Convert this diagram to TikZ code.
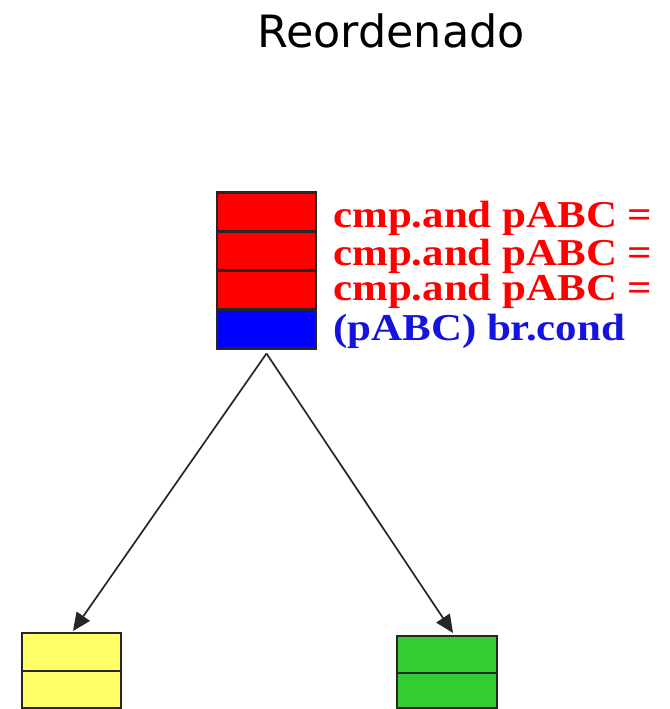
\documentclass[tikz,border=0pt]{standalone}
\usepackage{fontspec}
\setmainfont{Liberation Serif}
\newfontfamily\titlefont{DejaVu Sans}
\usetikzlibrary{arrows.meta}
\definecolor{cellyellow}{RGB}{255,255,102}
\definecolor{cellgreen}{RGB}{51,204,51}
\definecolor{lblblue}{RGB}{20,20,220}
\begin{document}
\begin{tikzpicture}[x=1pt,y=-1pt,
  cell/.style={draw=black!85, line width=2.5pt, inner sep=0pt, outer sep=0pt},
  lbl/.style={anchor=base west, inner sep=0pt, font=\fontsize{38}{38}\selectfont\bfseries},
  conn/.style={-{Triangle[length=18pt,width=16pt]}, line width=1.7pt, black!85}]
\useasboundingbox (0,0) rectangle (669,709);
\node[anchor=base, inner sep=0pt, font=\titlefont\fontsize{44.5}{44.5}\selectfont] (title) at (391,48) {Reordenado};
% stack
\node[cell, fill=red, minimum width=99pt, minimum height=39pt] (r1) at (266.5,212) {};
\node[cell, fill=red, minimum width=99pt, minimum height=39pt] (r2) at (266.5,251) {};
\node[cell, fill=red, minimum width=99pt, minimum height=39pt] (r3) at (266.5,290) {};
\node[cell, fill=blue, minimum width=99pt, minimum height=39pt] (bl) at (266.5,329) {};
% labels
\node[lbl, text=red] (t1) at (333,227) {\scalebox{1.13}[1]{cmp.and pABC =}};
\node[lbl, text=red] (t2) at (333,265) {\scalebox{1.13}[1]{cmp.and pABC =}};
\node[lbl, text=red] (t3) at (333,300) {\scalebox{1.13}[1]{cmp.and pABC =}};
\node[lbl, text=lblblue] (t4) at (333,340) {\scalebox{1.13}[1]{(pABC) br.cond}};
% bottom boxes
\node[cell, fill=cellyellow, minimum width=99pt, minimum height=38pt] (y1) at (71.5,652) {};
\node[cell, fill=cellyellow, minimum width=99pt, minimum height=37pt] (y2) at (71.5,689.5) {};
\node[cell, fill=cellgreen, minimum width=100pt, minimum height=37pt] (g1) at (447,654.5) {};
\node[cell, fill=cellgreen, minimum width=100pt, minimum height=35pt] (g2) at (447,690.5) {};
% connectors
\draw[conn] ([yshift=-5pt]bl.south) -- ([xshift=1.5pt,yshift=2pt]y1.north);
\draw[conn] ([yshift=-5pt]bl.south) -- ([xshift=6pt,yshift=3pt]g1.north);
\end{tikzpicture}
\end{document}
